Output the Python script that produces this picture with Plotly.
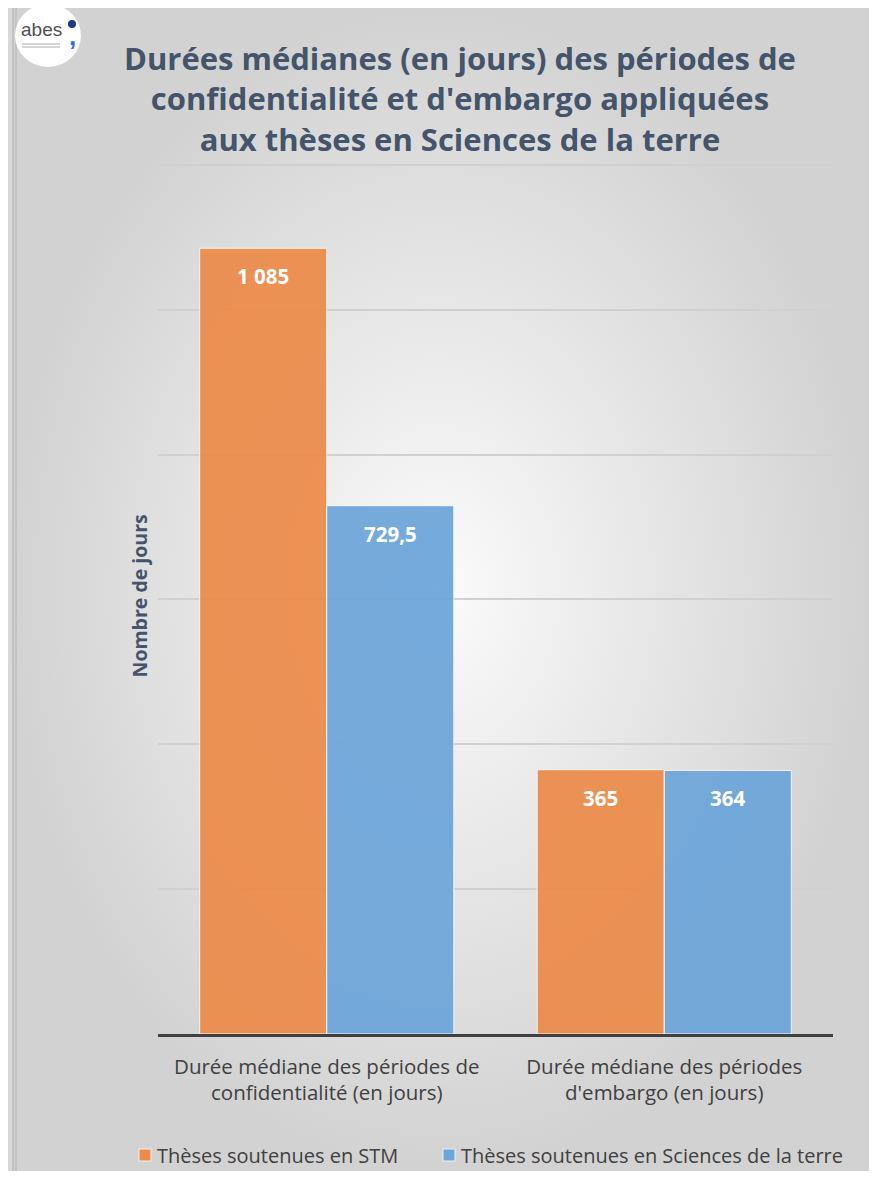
import plotly.graph_objects as go

categories = [
    "Durée médiane des périodes de<br>confidentialité (en jours)",
    "Durée médiane des périodes<br>d'embargo (en jours)",
]
stm_values = [1085, 365]
terre_values = [729.5, 364]
series_names = ["Thèses soutenues en STM", "Thèses soutenues en Sciences de la terre"]
bar_colors = ["#ed8b4a", "#6ca5da"]

# the page body adds an 8px margin, so the figure is drawn 8px in
OFF = 8
W, H = 877 - 2 * OFF, 1179 - 2 * OFF
FONT = "Open Sans"
TITLE_COLOR = "#44546a"
Y_TOP = 1210


def px_x(x):
    return (x - OFF) / W


def px_y(y):
    return 1 - (y - OFF) / H


fig = go.Figure()

# soft radial background over the whole page
fig.add_trace(go.Scatter(
    x=[0, 1, 1, 0, 0], y=[0, 0, 1, 1, 0],
    xaxis="x", yaxis="y",
    mode="lines", line_width=0, fill="toself",
    fillgradient=dict(type="radial", colorscale=[[0, "#fbfbfb"], [1, "#d2d2d2"]]),
    hoverinfo="skip", showlegend=False,
))

for name, vals, col in zip(series_names, [stm_values, terre_values], bar_colors):
    fig.add_trace(go.Bar(
        x=categories, y=vals, name=name,
        marker=dict(color=col, opacity=0.93, line=dict(color="#f6f6f6", width=1)),
        xaxis="x2", yaxis="y2", hoverinfo="x+y+name", showlegend=False,
    ))

# value labels, sitting a little below each bar top
for i, vals in enumerate([stm_values, terre_values]):
    for cat, v in zip(categories, vals):
        fig.add_annotation(
            x=cat, y=v, xref="x2", yref="y2",
            text=f"<b>{v:,}</b>".replace(",", " ").replace(".", ","),
            showarrow=False, xshift=(-63.5 if i == 0 else 63.5), yshift=-28,
            font=dict(family=FONT, size=20.5, color="white"),
        )

# 1200 units span 869px, so the top of the range sits a bit above the last gridline
y_dom_top = 1034 - Y_TOP * 869 / 1200

fig.update_layout(
    width=W, height=H,
    margin=dict(l=0, r=0, t=0, b=0),
    paper_bgcolor="#e4e4e4",
    plot_bgcolor="rgba(0,0,0,0)",
    barmode="group", bargap=0.247, bargroupgap=0,
    font=dict(family=FONT, color="#404040"),
    showlegend=False,
    xaxis=dict(domain=[0, 1], range=[0, 1], visible=False, fixedrange=True),
    yaxis=dict(domain=[0, 1], range=[0, 1], visible=False, fixedrange=True),
    xaxis2=dict(
        domain=[px_x(158), px_x(833)], anchor="y2",
        showgrid=False, showline=True, linecolor="#404040", linewidth=3,
        ticks="", ticklabelstandoff=12, tickfont=dict(size=20.5, color="#404040"),
    ),
    yaxis2=dict(
        domain=[px_y(1034), px_y(y_dom_top)], anchor="x2",
        range=[0, Y_TOP], tickvals=[200, 400, 600, 800, 1000, 1200], showticklabels=False,
        gridcolor="#d0d0d0", gridwidth=1.5, zeroline=False,
        title=dict(text="<b>Nombre de jours</b>", standoff=4,
                   font=dict(size=19.5, color=TITLE_COLOR)),
    ),
)

fig.add_annotation(
    text="<b>Durées médianes (en jours) des périodes de<br>confidentialité et d'embargo appliquées<br>aux thèses en Sciences de la terre</b>",
    x=px_x(460), y=px_y(98), xref="paper", yref="paper",
    xanchor="center", yanchor="middle", showarrow=False, align="center",
    font=dict(family=FONT, size=31, color=TITLE_COLOR),
)

# legend drawn by hand to keep the tight spacing of the original
legend_x = [139, 443]
for lx, name, col in zip(legend_x, series_names, bar_colors):
    fig.add_shape(type="rect", xref="paper", yref="paper",
                  x0=px_x(lx), x1=px_x(lx + 12), y0=px_y(1161), y1=px_y(1149),
                  fillcolor=col, line=dict(color="#f0f0f0", width=1))
    fig.add_annotation(text=name, x=px_x(lx + 16), y=px_y(1155), xref="paper", yref="paper",
                       xanchor="left", yanchor="middle", showarrow=False,
                       font=dict(family=FONT, size=20, color="#404040"))

# left page edge
fig.add_shape(type="rect", xref="paper", yref="paper",
              x0=0, x1=px_x(13), y0=0, y1=1, fillcolor="#d8d8d8", line_width=0)
for xl in (13, 16):
    fig.add_shape(type="line", xref="paper", yref="paper",
                  x0=px_x(xl), x1=px_x(xl), y0=0, y1=1,
                  line=dict(color="#bdbdbd", width=1.5))

# logo
fig.add_shape(type="circle", xref="paper", yref="paper",
              x0=px_x(15), x1=px_x(81), y0=px_y(67), y1=px_y(4),
              fillcolor="white", line_width=0)
fig.add_annotation(text="abes", x=px_x(41), y=px_y(30), xref="paper", yref="paper",
                   xanchor="center", yanchor="middle", showarrow=False,
                   font=dict(family="Liberation Sans", size=19, color="#505050"))
fig.add_shape(type="line", xref="paper", yref="paper",
              x0=px_x(22), x1=px_x(60), y0=px_y(44), y1=px_y(44),
              line=dict(color="#aaaaaa", width=1))
fig.add_shape(type="line", xref="paper", yref="paper",
              x0=px_x(22), x1=px_x(60), y0=px_y(47), y1=px_y(47),
              line=dict(color="#aaaaaa", width=1))
fig.add_shape(type="circle", xref="paper", yref="paper",
              x0=px_x(68), x1=px_x(76), y0=px_y(28), y1=px_y(20),
              fillcolor="#1c3a8c", line_width=0)
fig.add_annotation(text="<b>,</b>", x=px_x(72), y=px_y(36), xref="paper", yref="paper",
                   xanchor="center", yanchor="middle", showarrow=False,
                   font=dict(family="Liberation Sans", size=26, color="#2e6fd1"))

fig.write_html("out.html")
